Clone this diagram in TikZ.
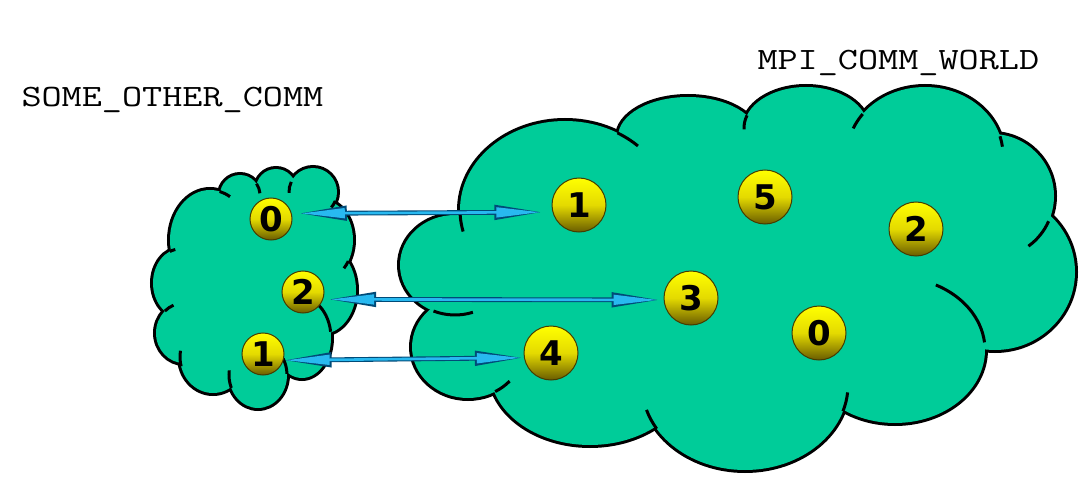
\documentclass[tikz,border=0pt]{standalone}
\usepackage{fontspec}
\newfontfamily\ballfont{DejaVu Sans}
\usetikzlibrary{arrows.meta}
\definecolor{cloudgreen}{RGB}{0,204,153}
\definecolor{arrowblue}{RGB}{40,185,240}
\definecolor{arrowedge}{RGB}{0,75,120}
\definecolor{ballhi}{RGB}{255,255,0}
\definecolor{ballmid}{RGB}{228,218,0}
\definecolor{balllo}{RGB}{105,92,0}
\definecolor{balledge}{RGB}{70,60,0}
\begin{document}
\begin{tikzpicture}[x=0.5pt, y=-0.5pt, every node/.style={inner sep=0pt},
  ball/.style={circle, draw=balledge, line width=0.5pt, top color=ballhi, bottom color=balllo, middle color=ballmid, minimum size=27pt, font=\ballfont\bfseries\fontsize{17pt}{17pt}\selectfont},
  smallball/.style={ball, minimum size=21pt},
  commlabel/.style={anchor=base west, transform shape, xscale=1.26, font=\ttfamily\fontsize{15.5pt}{15.5pt}\selectfont},
  outline/.style={line width=3pt},
  tail/.style={line width=1.5pt},
  linkedge/.style={draw=arrowedge, line width=2.4pt, >={Triangle[length=24pt,width=7pt]}, <->},
  linkfill/.style={draw=arrowblue, line width=1.3pt, >={Triangle[length=22pt,width=4.8pt]}, <->}]
  \useasboundingbox (0,0) rectangle (1088,481);
  \fill[white] (0,0) rectangle (1088,481);
  \foreach \cx/\cy/\rx/\ry in {565/210/105/89, 688/137/70/40, 806/128/62/41, 925/155/78/68, 992/196/62/62, 995/272/80/78, 895/350/90/73, 745/385/103/85, 590/370/100/75, 468/347/56/51, 455/265/55/50,
      210/240/40/50, 240/195/20/20, 276/189/20/20, 313/192/24/24, 322/240/31/40, 322/290/34/44, 302/338/29/40, 258/375/29/33, 213/357/33/36, 184/333/28/30, 180/283/27/34}
    \draw[outline] (\cx,\cy) ellipse [x radius=\rx, y radius=\ry];
  \foreach \cx/\cy/\rx/\ry in {565/210/105/89, 688/137/70/40, 806/128/62/41, 925/155/78/68, 992/196/62/62, 995/272/80/78, 895/350/90/73, 745/385/103/85, 590/370/100/75, 468/347/56/51, 455/265/55/50,
      210/240/40/50, 240/195/20/20, 276/189/20/20, 313/192/24/24, 322/240/31/40, 322/290/34/44, 302/338/29/40, 258/375/29/33, 213/357/33/36, 184/333/28/30, 180/283/27/34}
    \fill[cloudgreen] (\cx,\cy) ellipse [x radius=\rx, y radius=\ry];
  \fill[cloudgreen] (565,210) -- (688,137) -- (806,128) -- (925,155) -- (992,196) -- (995,272) -- (895,350) -- (745,385) -- (590,370) -- (468,347) -- (455,265) -- cycle;
  \fill[cloudgreen] (210,240) -- (240,195) -- (276,189) -- (313,192) -- (322,240) -- (322,290) -- (302,338) -- (258,375) -- (213,357) -- (184,333) -- (180,283) -- cycle;
  \foreach \cx/\cy/\rx/\ry/\ta/\tb in {565/210/105/89/166/177, 565/210/105/89/-60/-46, 806/128/62/41/178/198, 925/155/78/68/203/217, 925/155/78/68/-16/-7, 992/196/62/62/24/54, 895/350/90/73/-63/-6, 745/385/103/85/5/18, 745/385/103/85/149/163, 468/347/56/51/42/61, 455/265/55/50/71/113,
      180/283/27/34/-112/-100, 210/240/40/50/-76/-60, 240/195/20/20/-34/-5, 313/192/24/24/178/205, 313/192/24/24/22/40, 322/240/31/40/32/45, 302/338/29/40/-60/-9, 258/375/29/33/-30/-2, 258/375/29/33/157/188, 213/357/33/36/165/190, 184/333/28/30/-133/-112}
    \draw[tail] (\cx,\cy) ++({\rx*cos(\ta)},{\ry*sin(\ta)}) arc [start angle=\ta, end angle=\tb, x radius=\rx, y radius=\ry];
  \node[commlabel] (worldlbl) at (757,70) {MPI\_COMM\_WORLD};
  \node[commlabel] (otherlbl) at (21,107) {SOME\_OTHER\_COMM};
  \node[smallball] (s0) at (271,219) {0};
  \node[smallball] (s2) at (303,292) {2};
  \node[smallball] (s1) at (263,354) {1};
  \node[ball] (b1) at (579,205) {1};
  \node[ball] (b5) at (765,197) {5};
  \node[ball] (b2) at (916,229) {2};
  \node[ball] (b3) at (691,298) {3};
  \node[ball] (b4) at (551,353) {4};
  \node[ball] (b0) at (819,333) {0};
  \foreach \from/\to/\sa/\sb in {s0.15/b1.195/3.5pt/5pt, s2.340/b3.184/2.5pt/2pt, s1.343/b4.190/0pt/0.5pt} {
    \draw[linkedge, shorten <=\sa, shorten >=\sb] (\from) -- (\to);
    \draw[linkfill, shorten <=\sa+1pt, shorten >=\sb+1pt] (\from) -- (\to);
  }
\end{tikzpicture}
\end{document}
